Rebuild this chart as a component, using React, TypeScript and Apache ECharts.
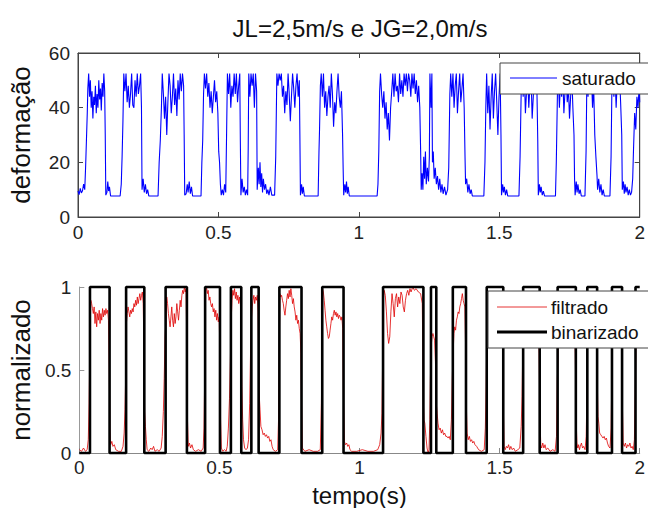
import React, { useEffect, useRef } from "react";
import * as echarts from "echarts";

const chartTitle = "JL=2,5m/s e JG=2,0m/s";
const topYName = "deformação";
const bottomYName = "normalizado";
const xName = "tempo(s)";
const legendTop = ["saturado"];
const legendBottom = ["filtrado", "binarizado"];

// saturado: [tempo (s), deformação]
const saturado: [number, number][] = [
  [0.000,9.5],[0.004,8.2],[0.008,10.5],[0.012,8.8],[0.016,9.6],[0.020,12],[0.024,10],[0.027,18],[0.030,28],[0.033,38],[0.035,47],[0.038,52.5],[0.041,44],[0.044,50],[0.047,40],[0.050,46],[0.053,36],[0.056,44],[0.059,41],[0.062,48],[0.065,38],[0.068,45],[0.071,40],[0.074,50],[0.077,43],[0.080,47],[0.083,39],[0.086,49],[0.089,44],[0.092,52.5],[0.095,46],[0.097,30],[0.099,8],
  [0.103,9],[0.106,13],[0.109,9.5],[0.112,11],[0.116,7.7],[0.150,7.7],[0.154,12],[0.157,22],[0.160,35],
  [0.163,52.5],[0.167,46],[0.171,52.5],[0.175,42],[0.179,48],[0.183,40],[0.187,45],[0.191,52.5],[0.195,41],[0.199,40],[0.203,50],[0.207,44],[0.211,52.5],[0.215,45],[0.219,48],[0.223,52.5],[0.226,40],[0.228,10],
  [0.232,14],[0.236,9],[0.240,12],[0.244,8.5],[0.248,10],[0.252,7.7],[0.285,7.7],[0.289,20],[0.293,28],
  [0.297,40],[0.300,52.5],[0.304,45],[0.308,36],[0.312,44],[0.316,30],[0.320,42],[0.324,52.5],[0.328,48],[0.332,38],[0.336,44],[0.340,52.5],[0.344,41],[0.348,47],[0.352,37],[0.356,50],[0.360,43],[0.364,52.5],[0.368,46],[0.372,52.5],[0.376,48],[0.378,30],[0.380,8],
  [0.385,8.5],[0.389,12],[0.392,9],[0.396,13],[0.400,8.5],[0.404,11],[0.408,7.7],[0.438,7.7],[0.441,20],[0.444,28],
  [0.447,45],[0.450,52.5],[0.454,47],[0.458,52.5],[0.462,44],[0.466,49],[0.470,40],[0.474,46],[0.478,38],[0.482,44],[0.486,50],[0.490,42],[0.494,46],[0.498,38],[0.501,24],[0.504,20],[0.507,12],[0.510,8],
  [0.514,10],[0.518,8],[0.522,12],[0.526,9],
  [0.529,30],[0.532,52.5],[0.536,45],[0.540,52.5],[0.544,40],[0.548,48],[0.552,44],[0.556,52.5],[0.560,45],[0.564,52.5],[0.568,42],[0.572,48],[0.576,52.5],[0.578,28],[0.580,8],
  [0.584,14],[0.588,9],[0.592,11],[0.596,8],[0.600,10],[0.604,8],[0.606,25],
  [0.608,52.5],[0.612,44],[0.616,52.5],[0.620,48],[0.624,52.5],[0.628,40],[0.632,52.5],[0.636,46],[0.638,10],
  [0.642,18],[0.645,12],[0.648,20],[0.651,11],[0.654,16],[0.657,9],[0.660,14],[0.664,10],[0.668,12],[0.672,8.5],[0.676,10],[0.680,8],[0.685,11],[0.690,8],[0.700,8],[0.704,22],
  [0.708,52.5],[0.712,48],[0.716,52.5],[0.720,50],[0.724,52.5],[0.728,44],[0.732,48],[0.736,38],[0.740,46],[0.744,41],[0.748,52.5],[0.752,45],[0.756,35],[0.760,44],[0.764,52.5],[0.768,47],[0.772,40],[0.776,48],[0.780,52.5],[0.784,44],[0.788,50],[0.790,30],[0.792,8],
  [0.796,12],[0.799,8.5],[0.802,11],[0.806,7.7],[0.855,7.7],[0.858,24],[0.860,32],
  [0.863,48],[0.866,52.5],[0.870,44],[0.874,52.5],[0.878,40],[0.882,46],[0.886,37],[0.890,44],[0.894,48],[0.898,40],[0.902,52.5],[0.906,45],[0.910,33],[0.914,42],[0.918,38],[0.922,46],[0.926,52.5],[0.930,44],[0.934,40],[0.938,46],[0.942,30],[0.944,18],[0.946,8],
  [0.950,12],[0.953,9],[0.956,13],[0.959,8.5],[0.962,11],[0.966,7.7],[1.065,7.7],[1.068,12],[1.071,24],
  [1.074,46],[1.077,52.5],[1.081,45],[1.085,40],[1.089,46],[1.093,36],[1.097,42],[1.101,32],[1.105,38],[1.109,28],[1.113,40],[1.117,46],[1.121,52.5],[1.125,44],[1.129,52.5],[1.133,46],[1.137,48],[1.141,42],[1.145,52.5],[1.149,45],[1.153,50],[1.157,44],[1.161,52.5],[1.165,48],[1.169,52.5],[1.173,46],[1.177,52.5],[1.181,50],[1.185,44],[1.189,52.5],[1.193,47],[1.197,52.5],[1.201,45],[1.205,50],[1.209,42],[1.213,48],[1.217,40],[1.220,24],[1.222,10],
  [1.225,16],[1.228,10],[1.231,22],[1.234,14],[1.237,24],[1.240,12],[1.244,18],[1.248,13],[1.251,22],
  [1.253,52.5],[1.257,40],[1.260,52.5],[1.262,20],
  [1.265,24],[1.268,14],[1.272,18],[1.276,12],[1.280,15],[1.284,10],[1.288,14],[1.292,9],[1.296,12],[1.300,8.5],[1.305,11],[1.310,8],[1.316,10],[1.320,18],
  [1.324,45],[1.327,52.5],[1.331,44],[1.335,52.5],[1.339,40],[1.343,48],[1.347,52.5],[1.351,38],[1.355,46],[1.359,52.5],[1.363,42],[1.367,47],[1.371,52.5],[1.375,40],[1.378,22],[1.380,12],
  [1.384,14],[1.388,9],[1.392,12],[1.396,8.5],[1.400,10],[1.404,7.7],[1.445,7.7],[1.449,20],
  [1.452,40],[1.455,52.5],[1.459,38],[1.463,48],[1.467,32],[1.471,44],[1.475,52.5],[1.479,36],[1.483,46],[1.487,52.5],[1.491,42],[1.495,30],[1.499,44],[1.503,52.5],[1.506,30],[1.508,8],
  [1.512,12],[1.515,9],[1.518,11],[1.522,8],[1.526,10],[1.530,7.7],[1.570,7.7],[1.574,22],
  [1.578,46],[1.581,52.5],[1.585,44],[1.589,52.5],[1.593,38],[1.597,46],[1.601,52.5],[1.605,40],[1.609,48],[1.613,52.5],[1.617,36],[1.621,44],[1.625,52.5],[1.629,46],[1.633,52.5],[1.637,28],[1.639,8],
  [1.643,12],[1.646,9],[1.649,11],[1.653,8],[1.657,9.5],[1.661,7.7],[1.700,7.7],[1.703,20],
  [1.707,45],[1.710,52.5],[1.714,40],[1.718,50],[1.722,44],[1.726,52.5],[1.730,38],[1.734,46],[1.738,52.5],[1.742,42],[1.746,48],[1.750,36],[1.754,44],[1.758,52.5],[1.762,40],[1.766,30],[1.768,14],[1.770,8],
  [1.774,13],[1.777,9],[1.780,12],[1.784,8.5],[1.788,10],[1.792,7.7],[1.805,7.7],[1.809,24],
  [1.812,52.5],[1.816,44],[1.820,52.5],[1.824,46],[1.828,52.5],[1.832,40],[1.836,48],[1.840,30],[1.844,22],[1.848,15],[1.850,10],
  [1.854,14],[1.858,9],[1.862,12],[1.866,8],[1.870,10],[1.874,7.7],[1.894,7.7],[1.898,22],
  [1.901,48],[1.904,52.5],[1.908,44],[1.912,52.5],[1.916,40],[1.920,50],[1.924,45],[1.928,52.5],[1.932,42],[1.936,30],[1.938,10],
  [1.942,13],[1.945,8.5],[1.948,12],[1.951,9],[1.955,11],[1.959,8],[1.963,10],[1.967,8],[1.971,9],[1.975,14],
  [1.978,25],[1.982,38],[1.986,32],[1.990,44],[1.994,40],[1.998,48],[2.000,42],
];

// filtrado: [tempo (s), normalizado]
const filtrado: [number, number][] = [
  [0.000,0.02],[0.008,0.01],[0.015,0.03],[0.022,0.01],[0.028,0.02],[0.032,0.08],[0.035,0.3],[0.037,0.55],[0.039,0.8],[0.041,0.92],[0.044,0.9],[0.047,0.87],[0.050,0.84],[0.053,0.88],[0.056,0.78],[0.059,0.85],[0.062,0.76],[0.065,0.84],[0.068,0.8],[0.071,0.86],[0.074,0.78],[0.077,0.84],[0.080,0.8],[0.083,0.87],[0.086,0.82],[0.089,0.86],[0.092,0.83],[0.095,0.87],[0.098,0.84],[0.101,0.86],[0.104,0.8],[0.107,0.5],[0.109,0.15],[0.112,0.05],
  [0.116,0.07],[0.120,0.04],[0.125,0.05],[0.130,0.02],[0.140,0.01],[0.150,0.01],[0.156,0.04],[0.160,0.12],[0.163,0.26],[0.166,0.5],
  [0.168,0.78],[0.171,0.84],[0.174,0.88],[0.177,0.85],[0.180,0.82],[0.183,0.86],[0.186,0.84],[0.189,0.87],[0.192,0.85],[0.195,0.9],[0.198,0.88],[0.201,0.92],[0.204,0.89],[0.207,0.94],[0.210,0.9],[0.213,0.93],[0.216,0.96],[0.219,0.92],[0.222,0.95],[0.225,0.97],[0.228,0.9],[0.231,0.6],[0.233,0.25],
  [0.236,0.16],[0.239,0.08],[0.242,0.02],[0.248,0.01],[0.255,0.03],[0.260,0.02],[0.265,0.04],[0.270,0.01],[0.278,0.02],[0.285,0.01],[0.292,0.03],[0.296,0.1],[0.300,0.25],[0.303,0.45],[0.306,0.7],
  [0.309,0.8],[0.312,0.94],[0.315,0.9],[0.318,0.84],[0.321,0.8],[0.324,0.76],[0.327,0.82],[0.330,0.88],[0.333,0.8],[0.336,0.76],[0.339,0.84],[0.342,0.78],[0.345,0.82],[0.348,0.9],[0.351,0.85],[0.354,0.8],[0.357,0.86],[0.360,0.92],[0.363,0.88],[0.366,0.95],[0.369,0.98],[0.372,0.96],[0.375,1.0],[0.378,0.97],[0.381,0.99],[0.384,0.6],[0.386,0.2],
  [0.389,0.04],[0.393,0.06],[0.397,0.03],[0.402,0.05],[0.407,0.02],[0.415,0.01],[0.425,0.02],[0.435,0.01],[0.442,0.03],[0.445,0.15],[0.447,0.4],
  [0.449,0.75],[0.451,0.98],[0.454,1.0],[0.457,0.96],[0.460,0.98],[0.463,0.92],[0.466,0.94],[0.469,0.9],[0.472,0.88],[0.475,0.9],[0.478,0.85],[0.481,0.87],[0.484,0.82],[0.487,0.86],[0.490,0.8],[0.493,0.84],[0.496,0.79],[0.499,0.82],[0.502,0.6],[0.504,0.2],
  [0.507,0.03],[0.512,0.01],[0.518,0.02],[0.524,0.01],[0.528,0.04],[0.532,0.15],[0.536,0.33],[0.539,0.55],
  [0.542,0.8],[0.545,0.92],[0.548,0.98],[0.551,0.95],[0.554,0.99],[0.557,0.93],[0.560,0.97],[0.563,0.92],[0.566,0.95],[0.569,0.9],[0.572,0.94],[0.575,0.9],[0.578,0.7],[0.580,0.4],
  [0.583,0.2],[0.586,0.08],[0.590,0.03],[0.595,0.02],[0.600,0.03],[0.604,0.08],[0.608,0.3],[0.611,0.6],
  [0.614,0.8],[0.617,0.88],[0.620,0.92],[0.623,0.95],[0.626,0.9],[0.629,0.94],[0.632,0.92],[0.635,0.95],[0.638,0.85],[0.641,0.38],
  [0.645,0.26],[0.648,0.16],[0.652,0.14],[0.656,0.11],[0.660,0.12],[0.664,0.1],[0.668,0.11],[0.672,0.09],[0.676,0.1],[0.680,0.07],[0.684,0.08],[0.688,0.04],[0.692,0.02],[0.700,0.01],[0.708,0.02],[0.711,0.2],
  [0.714,0.7],[0.716,0.96],[0.719,0.94],[0.722,0.95],[0.725,0.92],[0.728,0.9],[0.731,0.86],[0.734,0.83],[0.737,0.88],[0.740,0.92],[0.743,0.96],[0.746,0.93],[0.749,0.98],[0.752,0.94],[0.755,0.99],[0.758,0.95],[0.761,0.9],[0.764,0.93],[0.767,0.88],[0.770,0.85],[0.773,0.8],[0.776,0.83],[0.779,0.78],[0.782,0.8],[0.785,0.75],[0.788,0.72],[0.791,0.6],[0.793,0.3],
  [0.796,0.03],[0.805,0.01],[0.820,0.02],[0.835,0.01],[0.850,0.01],[0.860,0.02],[0.864,0.3],[0.866,0.6],
  [0.868,0.99],[0.871,0.97],[0.874,0.92],[0.877,0.86],[0.880,0.8],[0.883,0.76],[0.886,0.72],[0.889,0.69],[0.892,0.7],[0.895,0.74],[0.898,0.78],[0.901,0.82],[0.904,0.8],[0.907,0.84],[0.910,0.86],[0.913,0.83],[0.916,0.85],[0.919,0.82],[0.922,0.84],[0.925,0.81],[0.928,0.83],[0.931,0.82],[0.934,0.8],[0.937,0.82],[0.940,0.75],[0.943,0.3],
  [0.946,0.07],[0.950,0.05],[0.954,0.06],[0.958,0.04],[0.962,0.05],[0.966,0.02],[0.972,0.01],[0.990,0.01],[1.010,0.02],[1.030,0.01],[1.050,0.01],[1.065,0.02],[1.072,0.05],[1.077,0.12],[1.080,0.24],[1.082,0.5],
  [1.084,0.9],[1.088,0.98],[1.092,0.95],[1.096,0.85],[1.100,0.72],[1.104,0.66],[1.108,0.7],[1.112,0.85],[1.116,0.96],[1.120,0.9],[1.124,0.82],[1.128,0.93],[1.132,0.96],[1.136,0.88],[1.140,0.94],[1.144,0.9],[1.148,0.97],[1.152,0.95],[1.156,0.88],[1.160,0.85],[1.164,0.92],[1.168,0.96],[1.172,0.98],[1.176,0.95],[1.180,0.99],[1.184,0.97],[1.190,1.0],[1.196,0.98],[1.202,0.99],[1.210,0.97],[1.218,0.96],[1.224,0.9],[1.228,0.3],
  [1.230,0.2],[1.233,0.18],[1.237,0.1],[1.241,0.03],[1.245,0.0],[1.248,0.02],[1.251,0.2],[1.253,0.45],
  [1.256,0.65],[1.259,0.7],[1.262,0.72],[1.265,0.7],[1.268,0.68],[1.271,0.55],[1.274,0.3],
  [1.277,0.24],[1.280,0.18],[1.284,0.14],[1.288,0.15],[1.292,0.12],[1.296,0.14],[1.300,0.11],[1.304,0.12],[1.308,0.1],[1.312,0.1],[1.316,0.09],[1.320,0.1],[1.324,0.08],[1.328,0.2],[1.331,0.45],
  [1.334,0.6],[1.337,0.72],[1.340,0.76],[1.343,0.74],[1.346,0.8],[1.349,0.82],[1.352,0.85],[1.355,0.84],[1.358,0.88],[1.361,0.9],[1.364,0.93],[1.367,0.96],[1.370,0.92],[1.373,0.9],[1.376,0.88],[1.379,0.6],[1.381,0.3],
  [1.384,0.12],[1.388,0.08],[1.392,0.1],[1.396,0.07],[1.400,0.08],[1.404,0.06],[1.408,0.07],[1.412,0.05],[1.418,0.04],[1.425,0.02],[1.435,0.01],[1.445,0.02],[1.449,0.15],[1.452,0.4],
  [1.455,0.8],[1.458,0.88],[1.462,0.92],[1.466,0.86],[1.470,0.9],[1.474,0.94],[1.478,0.9],[1.482,0.85],[1.486,0.9],[1.490,0.93],[1.494,0.88],[1.498,0.91],[1.502,0.86],[1.506,0.9],[1.510,0.7],[1.513,0.3],
  [1.516,0.04],[1.520,0.02],[1.524,0.04],[1.528,0.03],[1.532,0.05],[1.536,0.02],[1.540,0.04],[1.545,0.02],[1.550,0.03],[1.556,0.01],[1.565,0.02],[1.572,0.03],[1.577,0.16],[1.580,0.34],[1.582,0.55],
  [1.585,0.8],[1.589,0.88],[1.593,0.93],[1.597,0.9],[1.601,0.94],[1.605,0.88],[1.609,0.92],[1.613,0.96],[1.617,0.9],[1.621,0.86],[1.625,0.9],[1.629,0.93],[1.633,0.9],[1.637,0.85],[1.641,0.6],[1.644,0.2],
  [1.647,0.05],[1.650,0.03],[1.654,0.06],[1.658,0.03],[1.662,0.05],[1.666,0.02],[1.672,0.03],[1.680,0.01],[1.690,0.02],[1.698,0.01],[1.703,0.1],[1.706,0.45],[1.708,0.55],
  [1.710,0.8],[1.714,0.9],[1.718,0.94],[1.722,0.88],[1.726,0.92],[1.730,0.86],[1.734,0.9],[1.738,0.95],[1.742,0.9],[1.746,0.87],[1.750,0.92],[1.754,0.88],[1.758,0.84],[1.762,0.88],[1.766,0.82],[1.770,0.6],[1.773,0.2],
  [1.776,0.06],[1.779,0.03],[1.782,0.05],[1.785,0.02],[1.788,0.04],[1.792,0.06],[1.796,0.03],[1.800,0.04],[1.805,0.02],[1.809,0.1],[1.812,0.4],
  [1.815,0.8],[1.819,0.9],[1.823,0.95],[1.827,0.9],[1.831,0.93],[1.835,0.88],[1.839,0.9],[1.843,0.84],[1.847,0.7],[1.849,0.4],
  [1.851,0.22],[1.854,0.18],[1.857,0.12],[1.861,0.11],[1.865,0.1],[1.869,0.09],[1.873,0.1],[1.877,0.08],[1.881,0.09],[1.885,0.06],[1.889,0.04],[1.894,0.03],[1.898,0.15],[1.900,0.4],
  [1.903,0.8],[1.907,0.9],[1.911,0.94],[1.915,0.88],[1.919,0.92],[1.923,0.95],[1.927,0.9],[1.931,0.86],[1.935,0.7],[1.938,0.3],
  [1.941,0.06],[1.945,0.04],[1.949,0.06],[1.953,0.03],[1.957,0.05],[1.961,0.04],[1.965,0.06],[1.969,0.03],[1.973,0.04],[1.977,0.02],[1.981,0.08],[1.984,0.35],
  [1.987,0.75],[1.991,0.85],[1.995,0.9],[2.000,0.88],
];

// binarizado: [instante da transição (s), novo nível]
const binarizado: [number, number][] = [
  [0,0],[0.038,1],[0.108,0],[0.167,1],[0.232,0],[0.308,1],[0.384,0],[0.449,1],[0.502,0],[0.541,1],[0.578,0],[0.614,1],[0.640,0],[0.714,1],[0.793,0],[0.867,1],[0.943,0],[1.084,1],[1.228,0],[1.255,1],[1.274,0],[1.333,1],[1.380,0],[1.454,1],[1.513,0],[1.584,1],[1.643,0],[1.707,1],[1.772,0],[1.813,1],[1.848,0],[1.901,1],[1.937,0],[1.985,1],[2.0,1],
];

const FONT = "'Liberation Sans', Arial, Helvetica, sans-serif";
const AX = "#444";

export default function App() {
  const ref = useRef<HTMLDivElement>(null);
  useEffect(() => {
    if (!ref.current) return;
    const chart = echarts.init(ref.current, undefined, { renderer: "svg" });
    const tick = { show: true, inside: true, length: 5, lineStyle: { color: AX } };
    const lbl = { fontSize: 19, color: "#222", fontFamily: FONT };
    const xCommon = { type: "value", min: 0, max: 2, interval: 0.5, splitLine: { show: false } };
    chart.setOption({
      animation: false,
      backgroundColor: "#fff",
      textStyle: { fontFamily: FONT },
      grid: [
        { left: 76, right: 2, top: 53, height: 164, show: true, borderColor: AX, borderWidth: 1, backgroundColor: "transparent" },
        { left: 76, right: 2, top: 287, height: 166 },
      ],
      xAxis: [
        { ...xCommon, gridIndex: 0, axisLine: { onZero: false, lineStyle: { color: AX } }, axisTick: tick, axisLabel: { ...lbl, margin: 6 } },
        { ...xCommon, gridIndex: 0, position: "top", axisLine: { onZero: false, lineStyle: { color: AX } }, axisTick: tick, axisLabel: { show: false } },
        { ...xCommon, gridIndex: 1, axisLine: { onZero: false, lineStyle: { color: "#888" } }, axisTick: { ...tick, lineStyle: { color: "#888" } }, axisLabel: { ...lbl, margin: 5 },
          name: xName, nameLocation: "middle", nameGap: 30, nameTextStyle: { fontSize: 24, color: "#111", fontFamily: FONT } },
      ],
      yAxis: [
        { type: "value", gridIndex: 0, min: 0, max: 60, interval: 20, splitLine: { show: false },
          axisLine: { show: true, onZero: false, lineStyle: { color: AX } }, axisTick: tick, axisLabel: { ...lbl, margin: 8 },
          name: topYName, nameLocation: "middle", nameGap: 44, nameRotate: 90, nameTextStyle: { fontSize: 26, color: "#111", fontFamily: FONT } },
        { type: "value", gridIndex: 0, min: 0, max: 60, interval: 20, position: "right", splitLine: { show: false },
          axisLine: { show: true, onZero: false, lineStyle: { color: AX } }, axisTick: tick, axisLabel: { show: false } },
        { type: "value", gridIndex: 1, min: 0, max: 1, interval: 0.5, splitLine: { show: false },
          axisLine: { show: true, onZero: false, lineStyle: { color: "#999" } }, axisTick: { ...tick, lineStyle: { color: "#999" } }, axisLabel: { ...lbl, margin: 8 },
          name: bottomYName, nameLocation: "middle", nameGap: 44, nameRotate: 90, nameTextStyle: { fontSize: 26, color: "#111", fontFamily: FONT } },
      ],
      series: [
        { type: "line", name: legendTop[0], xAxisIndex: 0, yAxisIndex: 0, data: saturado, symbol: "none", showSymbol: false,
          lineStyle: { color: "#0000ff", width: 1.1 } },
        { type: "line", name: legendBottom[0], xAxisIndex: 2, yAxisIndex: 2, data: filtrado, symbol: "none", showSymbol: false,
          lineStyle: { color: "#e00000", width: 0.8 } },
        { type: "line", name: legendBottom[1], xAxisIndex: 2, yAxisIndex: 2, data: binarizado, step: "end", symbol: "none", showSymbol: false,
          clip: false, lineStyle: { color: "#000", width: 2.6 } },
      ],
      graphic: [
        { type: "text", x: 360, y: 28, z: 100, style: { text: chartTitle, fontSize: 24, fontFamily: FONT, fill: "#111", align: "center", verticalAlign: "middle", textAlign: "center", textVerticalAlign: "middle" } },
        { type: "rect", z: 100, shape: { x: 500, y: 63, width: 160, height: 31 }, style: { fill: "#fff", stroke: AX, lineWidth: 1 } },
        { type: "line", z: 101, shape: { x1: 510, y1: 78, x2: 557, y2: 78 }, style: { stroke: "#0000ff", lineWidth: 1 } },
        { type: "text", x: 562, y: 78, z: 101, style: { text: legendTop[0], fontSize: 19, fontFamily: FONT, fill: "#111", align: "left", verticalAlign: "middle", textAlign: "left", textVerticalAlign: "middle" } },
        { type: "rect", z: 100, shape: { x: 488, y: 291, width: 170, height: 57 }, style: { fill: "#fff", stroke: AX, lineWidth: 1 } },
        { type: "line", z: 101, shape: { x1: 497, y1: 307, x2: 547, y2: 307 }, style: { stroke: "#e00000", lineWidth: 0.8 } },
        { type: "text", x: 551, y: 307, z: 101, style: { text: legendBottom[0], fontSize: 19, fontFamily: FONT, fill: "#111", align: "left", verticalAlign: "middle", textAlign: "left", textVerticalAlign: "middle" } },
        { type: "line", z: 101, shape: { x1: 497, y1: 332, x2: 547, y2: 332 }, style: { stroke: "#000", lineWidth: 3 } },
        { type: "text", x: 551, y: 332, z: 101, style: { text: legendBottom[1], fontSize: 19, fontFamily: FONT, fill: "#111", align: "left", verticalAlign: "middle", textAlign: "left", textVerticalAlign: "middle" } },
      ],
    });
    return () => chart.dispose();
  }, []);
  return <div ref={ref} style={{ position: "fixed", left: 0, top: 0, width: 648, height: 508 }} />;
}
